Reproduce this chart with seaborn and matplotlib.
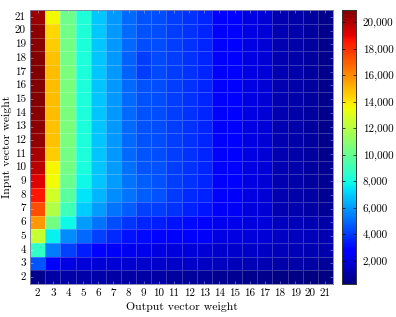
import numpy as np
import pandas as pd
import matplotlib
matplotlib.use("Agg")
import matplotlib.pyplot as plt
import seaborn as sns

output_weights = list(range(2, 22))
input_weights = list(range(2, 22))

# counts[i] = row for input weight input_weights[i], columns = output weights 2..21
counts = [
    [500, 900, 1000, 1000, 1000, 950, 950, 900, 900, 850, 800, 750, 650, 600, 550, 500, 400, 350, 300, 250],
    [4600, 2700, 2100, 1900, 1850, 1800, 1750, 1700, 1650, 1600, 1550, 1500, 1400, 1350, 1250, 1200, 1050, 1000, 900, 800],
    [8700, 5400, 4200, 3400, 2900, 2500, 2300, 2200, 2100, 2000, 1900, 1850, 1700, 1650, 1550, 1500, 1300, 1250, 1200, 1100],
    [12500, 7700, 5700, 5000, 4200, 3650, 3200, 3000, 2900, 2700, 2600, 2500, 2100, 2050, 1900, 1800, 1500, 1400, 1300, 1150],
    [15700, 10400, 7900, 6000, 5200, 4400, 3900, 3600, 3400, 3200, 3000, 2900, 2300, 2200, 2000, 1900, 1400, 1300, 1200, 1000],
    [17300, 11900, 9100, 7000, 6000, 5200, 4700, 4200, 4100, 3800, 3500, 3300, 2500, 2400, 2000, 1800, 1200, 1100, 950, 700],
    [18500, 12700, 9700, 7500, 6500, 5700, 5200, 4700, 4500, 4000, 3700, 3500, 2600, 2500, 2050, 1850, 1200, 1050, 900, 650],
    [19200, 13500, 10100, 7900, 6800, 6000, 5200, 4700, 4500, 4100, 3850, 3600, 2700, 2550, 2100, 1850, 1150, 1000, 850, 600],
    [19800, 13700, 10400, 8100, 6800, 6000, 5100, 4600, 4500, 4100, 3850, 3600, 2700, 2550, 2100, 1850, 1150, 1000, 850, 580],
    [20100, 14600, 10400, 8200, 6800, 5900, 5000, 4600, 4400, 4100, 3850, 3600, 2700, 2550, 2100, 1850, 1150, 1000, 830, 570],
    [20500, 14800, 10500, 8200, 6800, 5900, 5000, 4500, 4400, 4100, 3850, 3600, 2700, 2550, 2100, 1850, 1150, 1000, 830, 560],
    [20600, 14800, 10500, 8200, 6800, 5900, 5000, 4500, 4400, 4100, 3850, 3600, 2700, 2550, 2100, 1850, 1150, 1000, 830, 560],
    [20700, 14900, 10500, 8200, 6800, 5900, 5000, 4500, 4400, 4100, 3850, 3600, 2700, 2550, 2100, 1850, 1150, 1000, 830, 560],
    [20800, 14900, 10500, 8200, 6800, 5900, 5000, 4500, 4400, 4100, 3850, 3600, 2700, 2550, 2100, 1850, 1150, 1000, 830, 560],
    [20800, 14900, 10500, 8200, 6800, 5900, 5000, 4500, 4400, 4100, 3850, 3600, 2700, 2550, 2100, 1850, 1150, 1000, 830, 560],
    [20900, 14900, 10500, 8200, 6800, 5900, 4800, 4100, 4300, 4100, 3850, 3600, 2700, 2550, 2100, 1850, 1150, 1000, 830, 560],
    [20800, 14800, 10400, 8200, 6800, 5900, 4800, 4100, 4300, 4100, 3850, 3600, 2700, 2550, 2100, 1850, 1150, 1000, 830, 560],
    [20700, 14600, 10400, 8200, 6900, 5900, 5000, 4400, 4400, 4100, 3850, 3600, 2700, 2550, 2100, 1850, 1150, 1000, 830, 560],
    [20600, 14300, 10300, 8300, 6900, 5900, 5000, 4500, 4400, 4100, 3850, 3600, 2700, 2550, 2100, 1850, 1150, 1000, 830, 560],
    [20400, 13600, 10200, 8300, 6900, 5900, 5000, 4500, 4400, 4100, 3850, 3600, 2700, 2550, 2100, 1850, 1150, 1000, 830, 560],
]
cbar_ticks = [2000, 4000, 6000, 8000, 10000, 12000, 14000, 16000, 18000, 20000]

df = pd.DataFrame(counts, index=input_weights, columns=output_weights)
df = df.iloc[::-1]  # largest input weight on top

plt.rcParams['font.family'] = ['cmr10', 'DejaVu Serif']
plt.rcParams['axes.formatter.use_mathtext'] = True

fig = plt.figure(figsize=(3.96, 3.17), dpi=100)
ax = fig.add_axes([0.076, 0.104, 0.765, 0.864])
cax = fig.add_axes([0.864, 0.104, 0.035, 0.864])

sns.heatmap(
    df,
    ax=ax,
    cbar_ax=cax,
    cmap="jet",
    linewidths=0.5,
    linecolor=(1, 1, 1, 0.22),
    xticklabels=True,
    yticklabels=True,
    cbar_kws={"ticks": cbar_ticks, "format": matplotlib.ticker.StrMethodFormatter("{x:,.0f}")},
)

ax.set_xlabel("Output vector weight", fontsize=8.5, labelpad=3)
ax.set_ylabel("Input vector weight", fontsize=8.5, labelpad=2)
ax.tick_params(axis="both", labelsize=8, direction="in", length=2.5, width=0.5,
               color=(1, 1, 1, 0.5), top=True, right=True, pad=3)
ax.set_yticklabels(ax.get_yticklabels(), rotation=0)
ax.set_xticklabels(ax.get_xticklabels(), rotation=0)
for s in ax.spines.values():
    s.set_visible(True)
    s.set_linewidth(0.6)
    s.set_color("#7a7aa0")

cax.tick_params(labelsize=8, direction="in", length=2.5, width=0.5, left=True, right=True, pad=5)
for s in cax.spines.values():
    s.set_visible(True)
    s.set_linewidth(0.6)
    s.set_color("#333333")

fig.savefig("out.png", dpi=100)
